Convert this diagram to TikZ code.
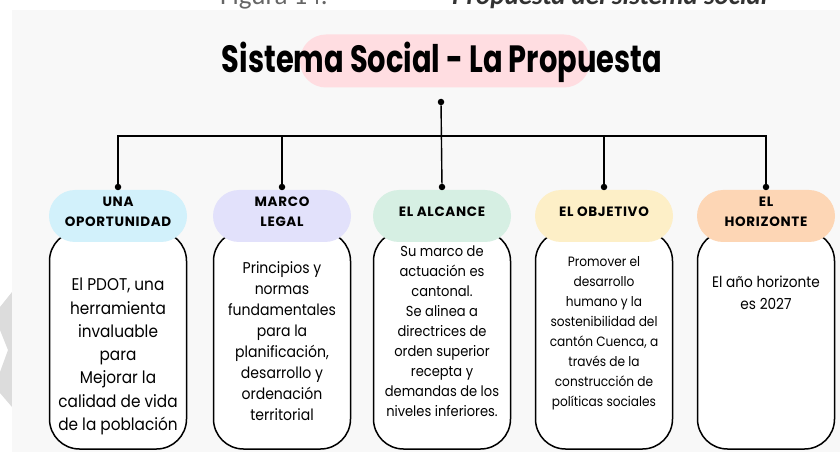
\documentclass[tikz,border=0pt]{standalone}
\usepackage{fontspec}
\setmainfont{Poppins}[FakeStretch=0.9]
\newfontfamily\titlefont{Poppins}[FakeStretch=0.76]
\newfontfamily\headfont{Poppins}[LetterSpace=5]
\newfontfamily\capfont{Carlito}
\usetikzlibrary{positioning}
\definecolor{paper}{HTML}{F8F8F8}
\definecolor{ghost}{HTML}{DCDCDC}
\definecolor{rosa}{HTML}{FFDDE1}
\definecolor{celeste}{HTML}{D2F1FB}
\definecolor{lila}{HTML}{E2E1FB}
\definecolor{menta}{HTML}{D6EFE3}
\definecolor{crema}{HTML}{FDEFC7}
\definecolor{durazno}{HTML}{FDD6B5}
\tikzset{
    wire/.style = {line width=1.4pt},
    joint/.style = {circle,fill=black,inner sep=0,minimum size=6.5pt},
    pill/.style = {rounded corners=26pt,minimum width=138pt,minimum height=52pt,inner sep=0},
    heading/.style = {font=\headfont\bfseries\fontsize{13.5}{20}\selectfont,align=center,inner sep=0},
    card/.style = {draw,fill=white,line width=1.5pt,rounded corners=30pt,minimum width=137pt,minimum height=218pt,inner sep=0},
    blurb/.style = {align=center,inner sep=0,anchor=north}
}
\begin{document}
\begin{tikzpicture}[x=1pt,y=-1pt]
        \useasboundingbox (0,0) rectangle (840,462);
        % Page
        \fill[ghost] (0,307) -- (12,292) -- (12,407) -- (0,393) -- (0,372) -- (8,350) -- (0,330) -- cycle;
        \fill[paper] (12,10) rectangle (840,452);
        \node[anchor=base west,inner sep=0,text=black!60,font=\capfont\fontsize{27}{27}\selectfont]
            (figNum) at (220,5) {Figura 14.};
        \node[anchor=base west,inner sep=0,text=black!80,font=\capfont\bfseries\itshape\fontsize{27}{27}\selectfont]
            (figTitle) at (452,5) {Propuesta del sistema social};
        % Title
        \node[pill,fill=rosa,minimum width=290pt,minimum height=53pt] (titlePill) at (445,61) {};
        \node[font=\titlefont\bfseries\fontsize{38}{38}\selectfont,inner sep=0] (title) at (442,62) {Sistema Social - La Propuesta};
        \node[joint] (root) at (441,102) {};
        \coordinate (bus) at (441,136);
        % Columns
        \foreach \name/\x/\col in {oport/118/celeste,marco/282/lila,alcance/442/menta,objetivo/604/crema,horiz/766/durazno} {
            \node[card] (\name Card) at (\x,340) {};
            \node[pill,fill=\col] (\name Pill) at (\x,216) {};
            \node[joint] (\name Joint) at (\x,187) {};
        }
        % Headings
        \node[heading] (oportHead) at (118,212) {UNA\\OPORTUNIDAD};
        \node[heading] (marcoHead) at (282,212) {MARCO\\LEGAL};
        \node[heading] (alcanceHead) at (442,212) {EL ALCANCE};
        \node[heading] (objetivoHead) at (604,212) {EL OBJETIVO};
        \node[heading] (horizHead) at (766,212) {EL\\HORIZONTE};
        % Texts
        \node[blurb,font=\fontsize{17}{23.3}\selectfont] (oportTxt) at (118,278)
            {El PDOT, una\\herramienta\\invaluable\\para\\Mejorar la\\calidad de vida\\de la población};
        \node[blurb,font=\fontsize{15.6}{21}\selectfont] (marcoTxt) at (282,261)
            {Principios y\\normas\\fundamentales\\para la\\planificación,\\desarrollo y\\ordenación\\territorial};
        \node[blurb,font=\fontsize{14.5}{20}\selectfont] (alcanceTxt) at (442,246)
            {Su marco de\\actuación es\\cantonal.\\Se alinea a\\directrices de\\orden superior\\recepta y\\demandas de los\\niveles inferiores.};
        \node[blurb,font=\fontsize{13.5}{20}\selectfont] (objetivoTxt) at (604,256)
            {Promover el\\desarrollo\\humano y la\\sostenibilidad del\\cantón Cuenca, a\\través de la\\construcción de\\políticas sociales};
        \node[blurb,font=\fontsize{15.2}{22}\selectfont] (horizTxt) at (766,276)
            {El año horizonte\\es 2027};
        % Links
        \draw[wire] (root) -- (alcanceJoint);
        \foreach \dest in {oportJoint,marcoJoint,objetivoJoint,horizJoint}
            \draw[wire] (\dest) |- (bus);
    \end{tikzpicture}
\end{document}
